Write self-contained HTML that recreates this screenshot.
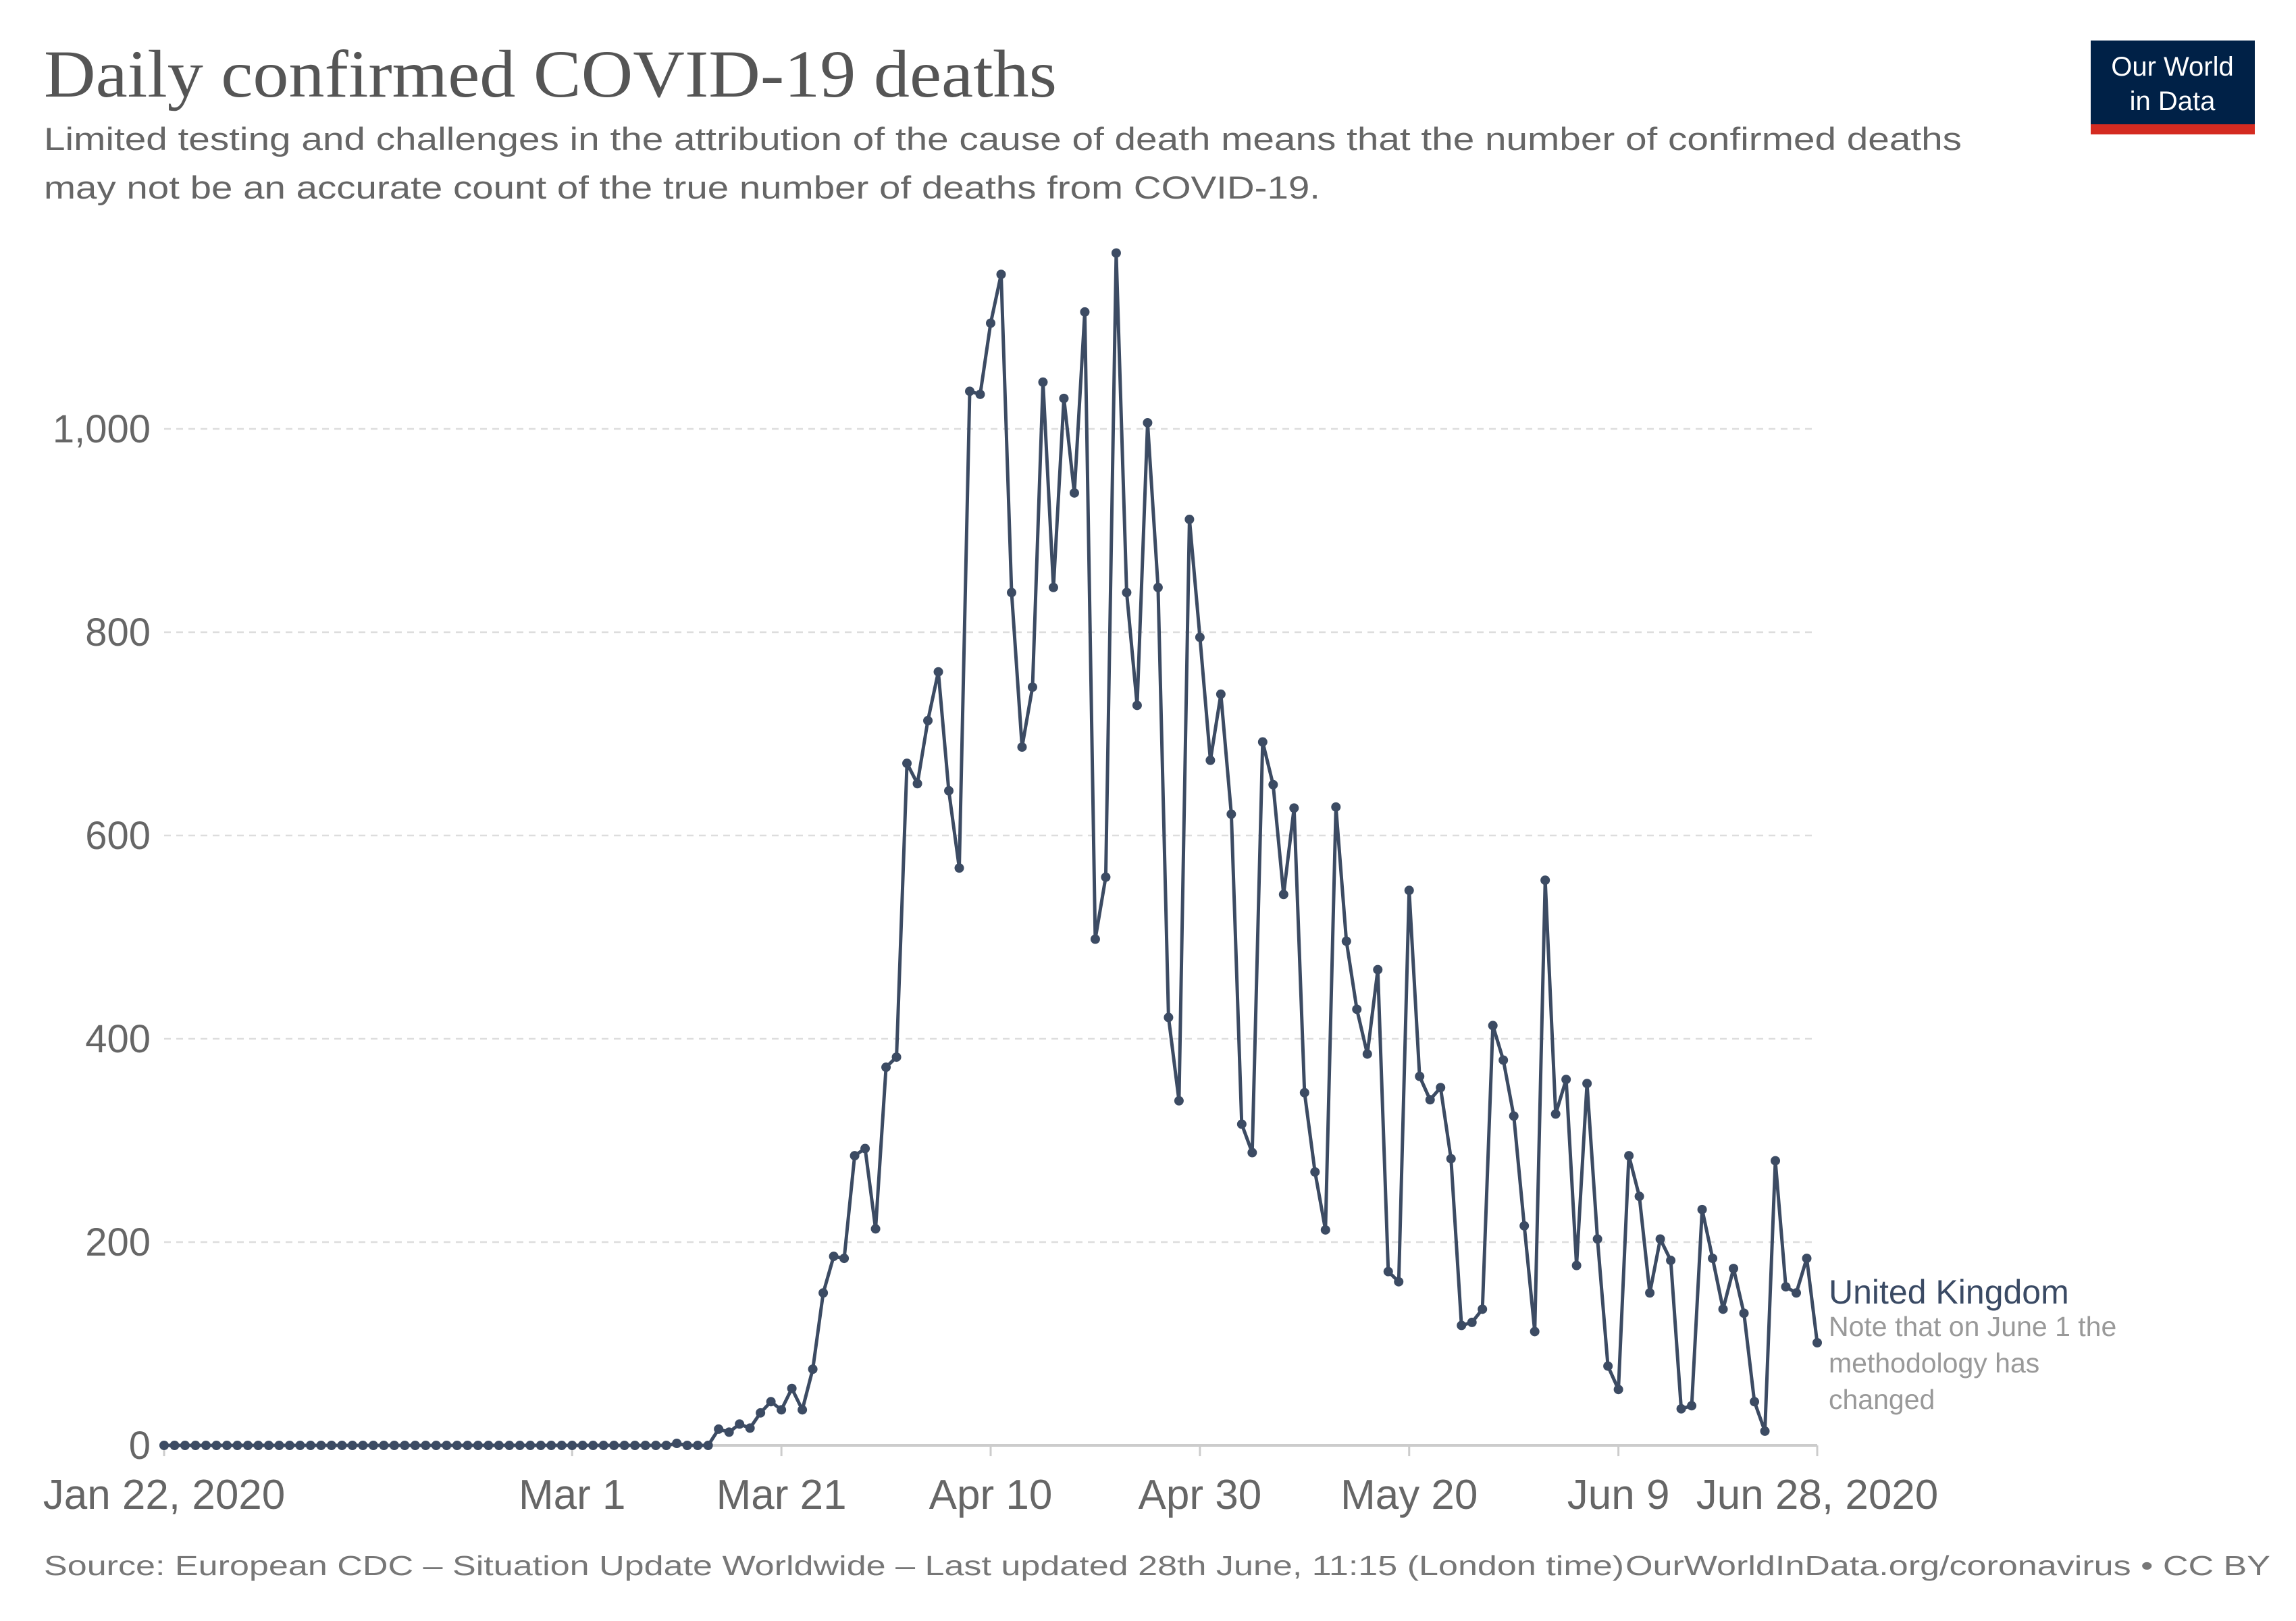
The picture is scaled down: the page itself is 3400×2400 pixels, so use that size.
<!DOCTYPE html>
<html><head><meta charset="utf-8"><style>
html,body{margin:0;padding:0;background:#fff;}
svg{display:block;}
text{font-family:"Liberation Sans",sans-serif;}
</style></head><body>
<svg id="chart" width="3400" height="2400" viewBox="0 0 3400 2400" xmlns="http://www.w3.org/2000/svg">
<text x="65" y="143" font-family="Liberation Serif, serif" style="font-family:'Liberation Serif',serif" font-size="100" fill="#555" textLength="1500" lengthAdjust="spacingAndGlyphs">Daily confirmed COVID-19 deaths</text>
<text x="65" y="222" font-size="47" fill="#666" textLength="2840" lengthAdjust="spacingAndGlyphs">Limited testing and challenges in the attribution of the cause of death means that the number of confirmed deaths</text>
<text x="65" y="294" font-size="47" fill="#666" textLength="1890" lengthAdjust="spacingAndGlyphs">may not be an accurate count of the true number of deaths from COVID-19.</text>
<g>
<rect x="3096" y="60" width="243" height="139" fill="#002147"/>
<rect x="3096" y="184" width="243" height="15" fill="#d42b21"/>
<text x="3217" y="112" font-size="40" fill="#fff" text-anchor="middle">Our World</text>
<text x="3217" y="163" font-size="40" fill="#fff" text-anchor="middle">in Data</text>
</g>
<g id="grid"></g>
<g id="yticks"></g>
<g id="xaxis"></g>
<g id="series"></g>
<text x="2708" y="1930" font-size="50" fill="#3a4a64">United Kingdom</text>
<text x="2708" y="1978" font-size="41" fill="#999" font-weight="300">Note that on June 1 the</text>
<text x="2708" y="2032" font-size="41" fill="#999">methodology has</text>
<text x="2708" y="2086" font-size="41" fill="#999">changed</text>
<text x="65" y="2332" font-size="41" fill="#777" textLength="2340" lengthAdjust="spacingAndGlyphs">Source: European CDC – Situation Update Worldwide – Last updated 28th June, 11:15 (London time)</text>
<text x="3362" y="2332" font-size="41" fill="#777" text-anchor="end" textLength="955" lengthAdjust="spacingAndGlyphs">OurWorldInData.org/coronavirus • CC BY</text>
</svg>
<script>
const deaths = [
0,0,0,0,0,0,0,0,0,0,0,0,0,0,0,0,0,0,0,0,0,0,0,0,0,0,0,0,0,0,0,0,0,0,0,0,0,0,0,0,0,0,0,0,0,0,0,0,0,2,0,0,0,
16,13,21,17,32,43,35,56,35,75,150,186,184,285,292,213,372,382,671,651,713,761,644,568,1037,1034,1104,1152,839,687,746,1046,844,1030,937,1115,498,559,1173,839,728,1006,844,421,339,911,795,674,739,621,316,288,692,650,542,627,347,269,212,628,496,429,385,468,171,161,546,363,340,352,282,118,121,134,413,379,324,216,112,556,326,360,177,356,203,78,55,285,245,150,203,182,36,39,232,184,134,174,130,43,14,280,156,150,184,101
];
const yTicks = [0,200,400,600,800,1000];
const yTickLabels = ["0","200","400","600","800","1,000"];
const xTickDays = [0,39,59,79,99,119,139,158];
const xTickLabels = ["Jan 22, 2020","Mar 1","Mar 21","Apr 10","Apr 30","May 20","Jun 9","Jun 28, 2020"];

const NS="http://www.w3.org/2000/svg";
const X0=243, X1=2691, Y0=2140, Y1000=635;
const nDays=158;
function xScale(d){return X0+(X1-X0)*d/nDays;}
function yScale(v){return Y0-(Y0-Y1000)*v/1000;}
function mk(tag,attrs,parent){const e=document.createElementNS(NS,tag);for(const k in attrs)e.setAttribute(k,attrs[k]);parent.appendChild(e);return e;}

const grid=document.getElementById('grid'), yg=document.getElementById('yticks'), xg=document.getElementById('xaxis'), sg=document.getElementById('series');
yTicks.forEach((v,i)=>{
  if(v>0){
    const l=mk('line',{x1:X0,x2:X1,y1:yScale(v),y2:yScale(v),stroke:'#ddd','stroke-width':2.5,'stroke-dasharray':'10,8'},grid);
    
    
  }
  const t=mk('text',{x:223,y:yScale(v)+20,'font-size':58,fill:'#666','text-anchor':'end'},yg);
  t.textContent=yTickLabels[i];
  
  
});
const ax=mk('line',{x1:X0,x2:X1,y1:Y0,y2:Y0,stroke:'#ccc','stroke-width':4},xg);


xTickDays.forEach((d,i)=>{
  const tk=mk('line',{x1:xScale(d),x2:xScale(d),y1:Y0,y2:Y0+16,stroke:'#ccc','stroke-width':3},xg);
  
  
  const t=mk('text',{x:xScale(d),y:2234,'font-size':62,fill:'#666','text-anchor':'middle'},xg);
  t.textContent=xTickLabels[i];
  
  
});
const pts=deaths.map((v,i)=>xScale(i).toFixed(1)+','+yScale(v).toFixed(1)).join(' ');
const pl=mk('polyline',{points:pts,fill:'none',stroke:'#3c4b63','stroke-width':5,'stroke-linejoin':'round'},sg);


deaths.forEach((v,i)=>{
  const c=mk('circle',{cx:xScale(i),cy:yScale(v),r:7,fill:'#3c4b63'},sg);
  
  
});
</script>
</body></html>
